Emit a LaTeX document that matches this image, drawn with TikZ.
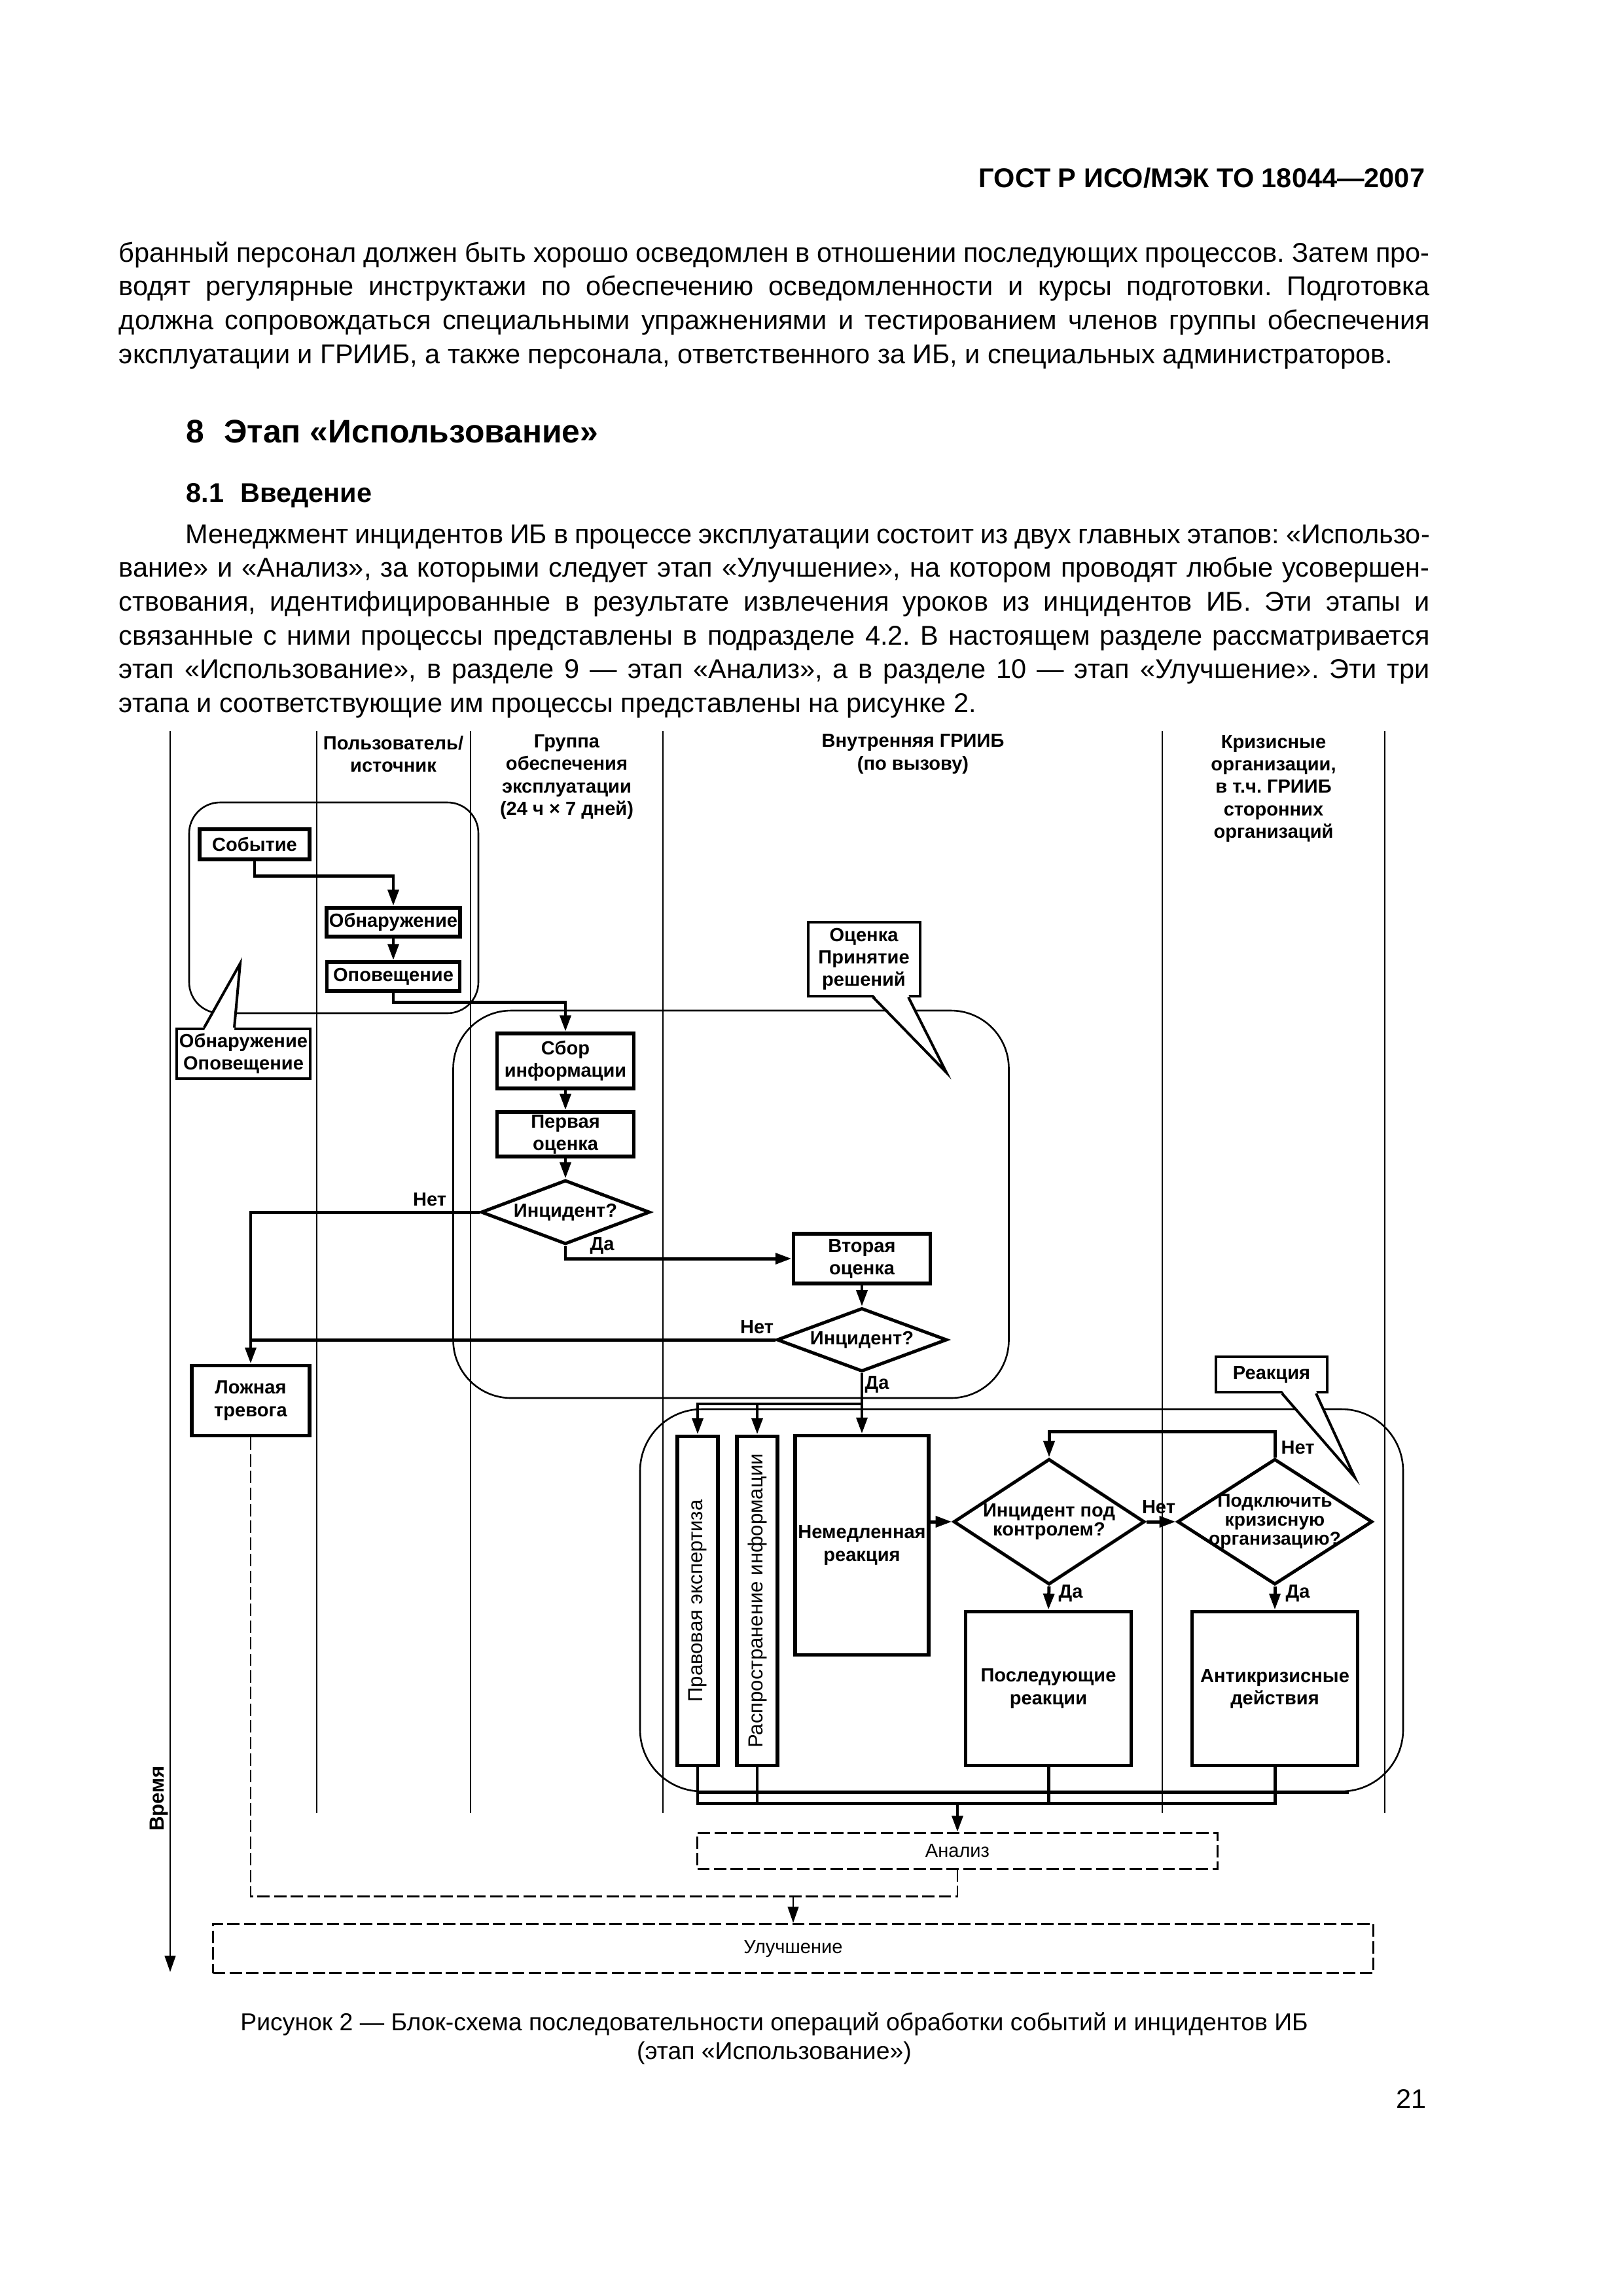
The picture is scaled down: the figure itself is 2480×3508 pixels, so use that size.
\documentclass[tikz,border=0pt]{standalone}
\usepackage{fontspec}
\setmainfont{Liberation Sans}
\usetikzlibrary{arrows.meta, positioning, calc, shapes.geometric}
\def\pxu{0.084677mm}

\begin{document}
\frenchspacing
\begin{tikzpicture}[
    x=\pxu, y=-\pxu,
    sz/.style 2 args={minimum width=#1*\pxu, minimum height=#2*\pxu},
    box/.style={rectangle, draw=black, line width=0.5mm, fill=white, align=center, inner sep=1pt, font=\fontsize{7}{8.2}\selectfont\bfseries},
    decision/.style={diamond, draw=black, line width=0.42mm, fill=white, align=center, inner sep=0pt, font=\fontsize{7}{7}\selectfont\bfseries},
    region/.style={rectangle, draw=black, line width=0.22mm},
    callout/.style={rectangle, draw=black, line width=0.34mm, fill=white, align=center, inner sep=1pt, font=\fontsize{7}{8.2}\selectfont\bfseries},
    tail/.style={draw=black, line width=0.34mm},
    phase/.style={rectangle, draw=black, line width=0.25mm, dash pattern=on 1.6mm off 0.55mm, font=\fontsize{7}{8.2}\selectfont},
    lane/.style={line width=0.2mm},
    lane_label/.style={align=center, inner sep=0pt, font=\fontsize{7}{8.2}\selectfont\bfseries},
    yn_label/.style={inner sep=0pt, font=\fontsize{7}{8.2}\selectfont\bfseries},
    side_text/.style={rotate=90, font=\fontsize{7.5}{9}\selectfont},
    arrow/.style={-{Triangle[length=2.1mm, width=1.4mm]}, line width=0.42mm},
    link/.style={line width=0.42mm},
    thin_arrow/.style={-{Triangle[length=2.1mm, width=1.4mm]}, line width=0.22mm},
    ooba/.style={line width=0.25mm, dash pattern=on 1.6mm off 0.55mm},
    para/.style={anchor=base west, text width=169.6mm, align=justify, inner sep=0pt, font=\fontsize{10}{12.45}\selectfont}
]
    \useasboundingbox (0,0) rectangle (2480,3508);

    % Page text
    \node[anchor=base east, inner sep=0pt, font=\fontsize{10}{12}\selectfont\bfseries] (gost) at (2178,286) {ГОСТ Р ИСО/МЭК ТО 18044—2007};
    \node[para] (p1) at (181,400) {бранный персонал должен быть хорошо осведомлен в отношении последующих процессов. Затем про-\linebreak
        водят регулярные инструктажи по обеспечению осведомленности и курсы подготовки. Подготовка\linebreak
        должна сопровождаться специальными упражнениями и тестированием членов группы обеспечения\linebreak
        эксплуатации и ГРИИБ, а также персонала, ответственного за ИБ, и специальных администраторов.};
    \node[anchor=base west, inner sep=0pt, font=\fontsize{12}{14}\selectfont\bfseries] (sec) at (284,676) {8\hskip0.6em Этап «Использование»};
    \node[anchor=base west, inner sep=0pt, font=\fontsize{10}{12}\selectfont\bfseries] (subsec) at (284,767) {8.1\hskip0.6em Введение};
    \node[para] (p2) at (181,830) {\hspace*{8.6mm}Менеджмент инцидентов ИБ в процессе эксплуатации состоит из двух главных этапов: «Использо-\linebreak
        вание» и «Анализ», за которыми следует этап «Улучшение», на котором проводят любые усовершен-\linebreak
        ствования, идентифицированные в результате извлечения уроков из инцидентов ИБ. Эти этапы и\linebreak
        связанные с ними процессы представлены в подразделе 4.2. В настоящем разделе рассматривается\linebreak
        этап «Использование», в разделе 9 — этап «Анализ», а в разделе 10 — этап «Улучшение». Эти три\linebreak
        этапа и соответствующие им процессы представлены на рисунке 2.};

    % Lanes
    \foreach \x in {484,719,1013,1776,2116}
        \draw[lane] (\x,1117) -- (\x,2770);
    \coordinate (t_top) at (260,1117);
    \coordinate (t_end) at (260,3013);
    \draw[thin_arrow] (t_top) -- (t_end);
    \node[lane_label, rotate=90, font=\fontsize{7.5}{9}\selectfont\bfseries] (time) at (243,2748) {Время};

    \node[lane_label] (h_user) at (601,1152) {Пользователь/\\источник};
    \node[lane_label] (h_ops) at (866,1187) {Группа\\обеспечения\\эксплуатации\\(24 ч × 7 дней)};
    \node[lane_label] (h_irt) at (1395,1152) {Внутренняя ГРИИБ\\(по вызову)};
    \node[lane_label] (h_ext) at (1946,1205) {Кризисные\\организации,\\в т.ч. ГРИИБ\\сторонних\\организаций};

    % Regions
    \node[region, sz={442}{322}, rounded corners=4mm] (grp1) at (510,1387) {};
    \node[region, sz={849}{592}, rounded corners=7.5mm] (grp2) at (1117,1840) {};
    \node[region, sz={1166}{584}, rounded corners=8mm] (grp3) at (1561,2445) {};

    % Detection and notification
    \node[box, sz={168}{46}] (event) at (389,1290) {Событие};
    \node[box, sz={203}{44}] (detect) at (601,1409) {Обнаружение};
    \node[box, sz={203}{44}] (notify) at (601,1492) {Оповещение};

    % Assessment
    \node[box, sz={209}{84}] (collect) at (864,1621) {Сбор\\информации};
    \node[box, sz={209}{65}] (first) at (864,1733) {Первая\\оценка};
    \node[decision, sz={258}{98}, shape aspect=2.6] (inc1) at (864,1852) {Инцидент?};
    \node[box, sz={209}{76}] (second) at (1317,1923) {Вторая\\оценка};
    \node[decision, sz={260}{97}, shape aspect=2.6] (inc2) at (1317,2047) {Инцидент?};
    \node[box, sz={180}{107}] (false) at (383,2140) {Ложная\\тревога};

    % Response
    \node[box, sz={62}{503}, label={[side_text]center:Правовая экспертиза}] (legal) at (1066,2446) {};
    \node[box, sz={62}{503}, label={[side_text]center:Распространение информации}] (spread) at (1157,2446) {};
    \node[box, sz={200}{335}] (immed) at (1317,2361) {Немедленная\\реакция};
    \node[decision, sz={292}{192}, shape aspect=1.5] (ctrl) at (1603,2325) {Инцидент под\\контролем?};
    \node[decision, sz={298}{192}, shape aspect=1.55, inner xsep=-1.7mm, inner ysep=-1.3mm,
          font=\fontsize{6.8}{7}\selectfont\bfseries] (crisis) at (1948,2325) {Подключить\\кризисную\\организацию?};
    \node[box, sz={253}{235}] (follow) at (1602,2580) {Последующие\\реакции};
    \node[box, sz={253}{235}] (anti) at (1948,2580) {Антикризисные\\действия};

    % Analysis and improvement
    \node[phase, sz={795}{55}] (analysis) at (1463,2828) {Анализ};
    \node[phase, sz={1773}{75}] (improve) at (1212,2977) {Улучшение};

    % Callouts
    \node[callout, sz={192}{76}] (c_detect) at (372,1610) {Обнаружение\\Оповещение};
    \fill[white] ($(c_detect.north)+(-60,4)$) -- ($(c_detect.north)+(-5,-98)$) -- ($(c_detect.north)+(-14,4)$) -- cycle;
    \draw[tail] ($(c_detect.north)+(-60,0)$) -- ($(c_detect.north)+(-5,-98)$) -- ($(c_detect.north)+(-14,0)$);
    \node[callout, sz={171}{113}] (c_assess) at (1320,1465) {Оценка\\Принятие\\решений};
    \fill[white] ($(c_assess.south)+(14,-4)$) -- ($(c_assess.south)+(126,115)$) -- ($(c_assess.south)+(68,-4)$) -- cycle;
    \draw[tail] ($(c_assess.south)+(14,0)$) -- ($(c_assess.south)+(126,115)$) -- ($(c_assess.south)+(68,0)$);
    \node[callout, sz={170}{54}] (c_react) at (1943,2100) {Реакция};
    \fill[white] ($(c_react.south)+(16,-4)$) -- ($(c_react.south)+(127,128)$) -- ($(c_react.south)+(68,-4)$) -- cycle;
    \draw[tail] ($(c_react.south)+(16,0)$) -- ($(c_react.south)+(127,128)$) -- ($(c_react.south)+(68,0)$);

    % Flow: detection
    \draw[arrow] (event.south) -- ++(0,23) -| (detect.north);
    \draw[arrow] (detect) -- (notify);
    \draw[arrow] (notify.south) -- ++(0,15) -| (collect.north);

    % Flow: assessment
    \draw[arrow] (collect) -- (first);
    \draw[arrow] (first) -- (inc1);
    \draw[arrow] (inc1.west) -| (false.north);
    \node[yn_label] (no1) at ($(inc1.west)+(-76,-19)$) {Нет};
    \draw[arrow] (inc1.south) |- (second.west);
    \node[yn_label] (yes1) at ($(inc1.south)+(56,0)$) {Да};
    \draw[arrow] (second) -- (inc2);
    \draw[link] (inc2.west) -- (inc2.west -| false.north);
    \node[yn_label] (no2) at ($(inc2.west)+(-28,-19)$) {Нет};
    \node[yn_label] (yes2) at ($(inc2.south)+(23,17)$) {Да};

    % Flow: response
    \coordinate (split) at ($(inc2.south)+(0,47)$);
    \draw[arrow] (inc2.south) -- (immed.north);
    \draw[arrow] (split) -| (legal.north);
    \draw[arrow] (split -| spread.north) -- (spread.north);
    \draw[arrow] (immed.east |- ctrl.west) -- (ctrl.west);
    \draw[arrow] (ctrl.east) -- (crisis.west);
    \node[yn_label] (no3) at ($(ctrl.east)+(19,-22)$) {Нет};
    \draw[arrow] (crisis.north) -- ++(0,-39) -| (ctrl.north);
    \node[yn_label] (no4) at ($(crisis.north)+(35,-15)$) {Нет};
    \draw[arrow] (ctrl.south) -- (follow.north);
    \node[yn_label] (yes3) at ($(ctrl.south)+(33,11)$) {Да};
    \draw[arrow] (crisis.south) -- (anti.north);
    \node[yn_label] (yes4) at ($(crisis.south)+(35,11)$) {Да};

    % Flow: outputs
    \coordinate (bus) at (1463,2755);
    \draw[link] (legal.south |- grp3.south) -- ($(grp3.south east)+(-84,0)$);
    \draw[link] (legal.south) |- (anti.south |- bus) -- (anti.south);
    \draw[link] (spread.south) -- (spread.south |- bus);
    \draw[link] (follow.south) -- (follow.south |- bus);
    \draw[arrow] (bus) -- (analysis.north);
    \coordinate (merge) at (1463,2897);
    \draw[ooba] (false.south) |- (merge) -- (analysis.south);
    \draw[thin_arrow] (improve.north |- merge) -- (improve.north);

    % Caption
    \node[anchor=base, align=center, inner sep=0pt, font=\fontsize{9}{10.6}\selectfont] (cap) at (1183,3146)
        {Рисунок 2 — Блок-схема последовательности операций обработки событий и инцидентов ИБ\\(этап «Использование»)};
    \node[anchor=base east, inner sep=0pt, font=\fontsize{10}{12}\selectfont] (page) at (2180,3221) {21};
\end{tikzpicture}
\end{document}
